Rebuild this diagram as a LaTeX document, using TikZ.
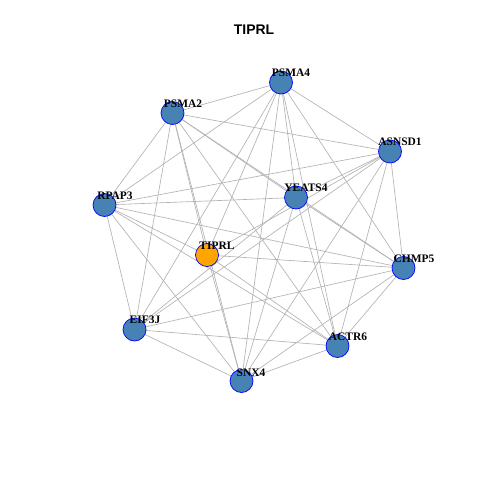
\documentclass[tikz,border=0pt]{standalone}
\usepackage{fontspec}
\setmainfont{Liberation Serif}
\newfontfamily\titlefont{Liberation Sans}
\definecolor{steel}{HTML}{4682B4}
\definecolor{edgegray}{HTML}{B3B3B3}
\definecolor{orng}{HTML}{FFA500}
\tikzset{
  vtx/.style={circle, draw=blue, line width=0.7bp, fill=steel, minimum size=23bp, inner sep=0pt},
  seed/.style={vtx, fill=orng},
  lbl/.style={font=\bfseries\fontsize{11.5}{11.5}\selectfont, inner sep=0pt, text=black},
  edge/.style={draw=edgegray, line width=0.65bp}
}
\begin{document}
\begin{tikzpicture}[x=1bp, y=-1bp]
\useasboundingbox (0,0) rectangle (480,480);
\fill[white] (0,0) rectangle (480,480);
\node[font=\titlefont\bfseries\fontsize{14}{14}\selectfont] (title) at (254,30) {TIPRL};
\coordinate (P4) at (281,82.5);
\coordinate (P2) at (172.5,113);
\coordinate (A) at (390,151.5);
\coordinate (Y) at (296,197.5);
\coordinate (R) at (104.5,205);
\coordinate (T) at (207,255);
\coordinate (C) at (403.5,268);
\coordinate (E) at (134.5,329.5);
\coordinate (AC) at (337.5,346);
\coordinate (S) at (241.5,381);
\foreach \a/\b in {P2/P4,P2/A,P2/Y,P2/C,P2/R,P2/E,P2/T,P2/S,P2/AC,
  P4/R,P4/E,P4/T,P4/S,P4/Y,P4/AC,P4/C,P4/A,
  A/R,A/Y,A/T,A/E,A/C,A/AC,A/S,
  Y/R,Y/E,Y/S,Y/AC,Y/C,
  R/T,R/C,R/AC,R/S,R/E,
  T/C,T/AC,T/S,
  C/E,C/AC,C/S,
  E/AC,E/S,
  AC/S}
  \draw[edge] (\a) -- (\b);
\node[vtx] (nP4) at (P4) {};
\node[vtx] (nP2) at (P2) {};
\node[vtx] (nA) at (A) {};
\node[vtx] (nY) at (Y) {};
\node[vtx] (nR) at (R) {};
\node[seed] (nT) at (T) {};
\node[vtx] (nC) at (C) {};
\node[vtx] (nE) at (E) {};
\node[vtx] (nAC) at (AC) {};
\node[vtx] (nS) at (S) {};
\node[lbl] (lP4) at (291,73) {PSMA4};
\node[lbl] (lP2) at (183,104) {PSMA2};
\node[lbl] (lA) at (400,142) {ASNSD1};
\node[lbl] (lY) at (306,188) {YEATS4};
\node[lbl] (lR) at (115,195.5) {RPAP3};
\node[lbl] (lT) at (217,246) {TIPRL};
\node[lbl] (lC) at (414,259) {CHMP5};
\node[lbl] (lE) at (145,320) {EIF3J};
\node[lbl] (lAC) at (348,337) {ACTR6};
\node[lbl] (lS) at (251,373) {SNX4};
\end{tikzpicture}
\end{document}
